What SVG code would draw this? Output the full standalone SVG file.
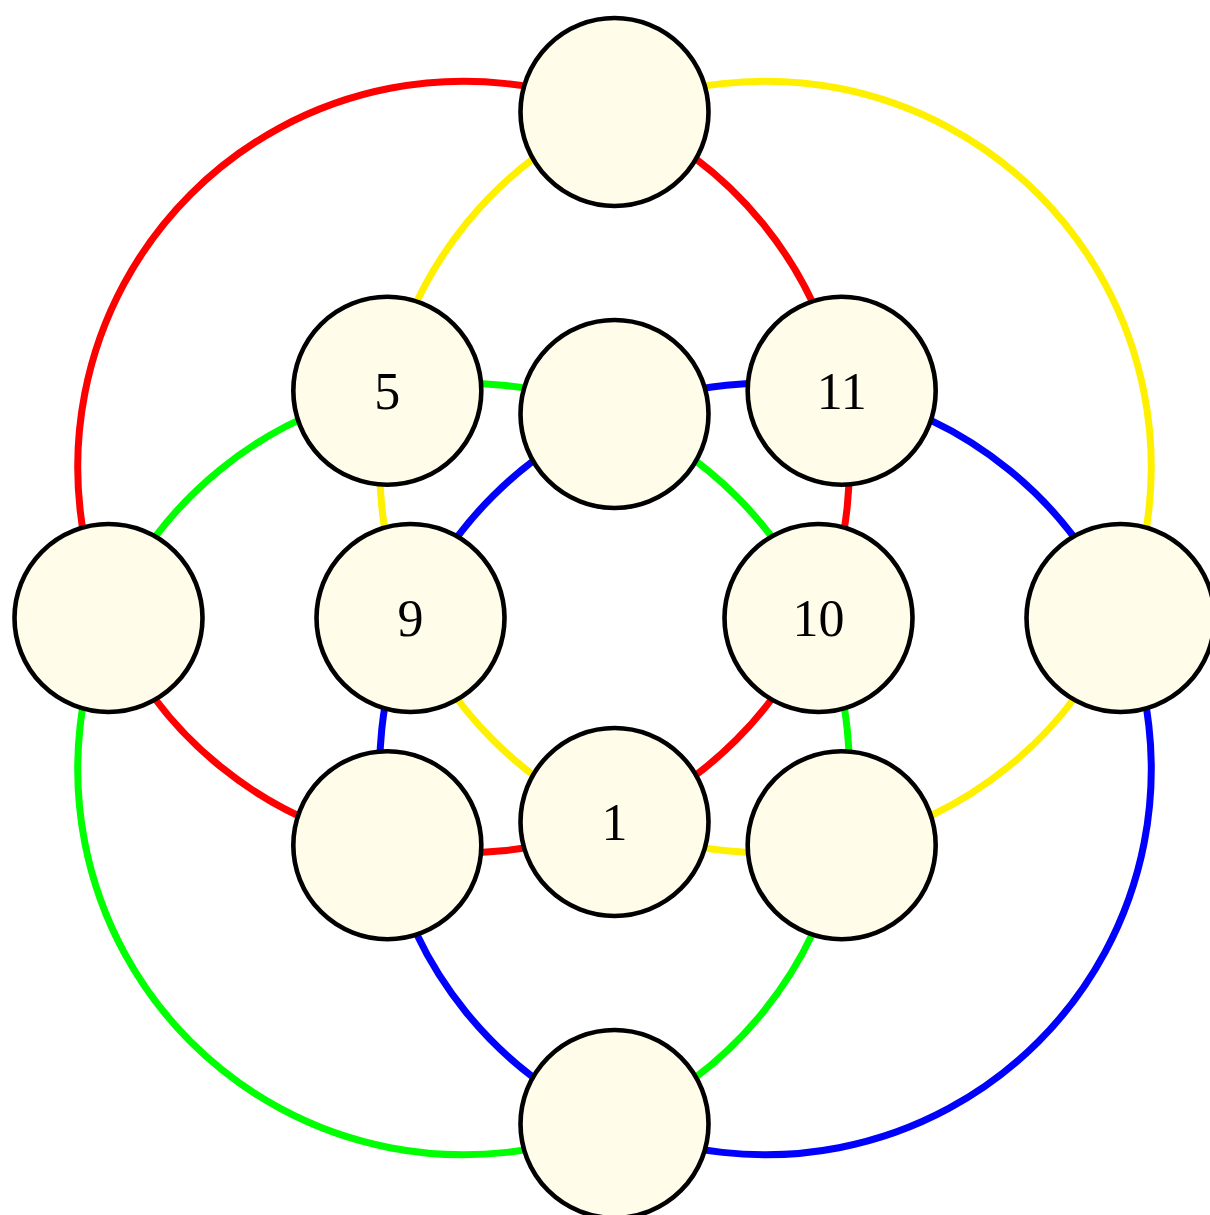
<svg xmlns="http://www.w3.org/2000/svg" width="1210" height="1215" viewBox="0 0 1210 1215">
<style>
.e{fill:none;stroke-width:7}
.r{stroke:#ff0000}.y{stroke:#fff000}.g{stroke:#00ff00}.b{stroke:#0000ff}
.n circle{fill:#fffce9;stroke:#000;stroke-width:4.6}
.n text{font-family:"Liberation Serif","Times New Roman",serif;font-size:52px;text-anchor:middle;fill:#000}
</style>
<rect width="1210" height="1215" fill="#fff"/>
<g id="connectors">
<path class="e r" d="M614.5,112 A385.78,385.78 0 0 1 841.68,390.82"/>
<path class="e r" d="M841.68,390.82 A385.78,385.78 0 0 1 818.5,618"/>
<path class="e r" d="M818.5,618 A385.78,385.78 0 0 1 614.5,822"/>
<path class="e r" d="M614.5,822 A385.78,385.78 0 0 1 387.32,845.18"/>
<path class="e r" d="M387.32,845.18 A385.78,385.78 0 0 1 108.5,618"/>
<path class="e r" d="M108.5,618 A385.78,385.78 0 0 1 614.5,112"/>
<path class="e y" d="M387.32,390.82 A385.78,385.78 0 0 1 614.5,112"/>
<path class="e y" d="M614.5,112 A385.78,385.78 0 0 1 1120.5,618"/>
<path class="e y" d="M1120.5,618 A385.78,385.78 0 0 1 841.68,845.18"/>
<path class="e y" d="M841.68,845.18 A385.78,385.78 0 0 1 614.5,822"/>
<path class="e y" d="M614.5,822 A385.78,385.78 0 0 1 410.5,618"/>
<path class="e y" d="M410.5,618 A385.78,385.78 0 0 1 387.32,390.82"/>
<path class="e g" d="M108.5,618 A385.78,385.78 0 0 1 387.32,390.82"/>
<path class="e g" d="M387.32,390.82 A385.78,385.78 0 0 1 614.5,414"/>
<path class="e g" d="M614.5,414 A385.78,385.78 0 0 1 818.5,618"/>
<path class="e g" d="M818.5,618 A385.78,385.78 0 0 1 841.68,845.18"/>
<path class="e g" d="M841.68,845.18 A385.78,385.78 0 0 1 614.5,1124"/>
<path class="e g" d="M614.5,1124 A385.78,385.78 0 0 1 108.5,618"/>
<path class="e b" d="M841.68,390.82 A385.78,385.78 0 0 1 1120.5,618"/>
<path class="e b" d="M1120.5,618 A385.78,385.78 0 0 1 614.5,1124"/>
<path class="e b" d="M614.5,1124 A385.78,385.78 0 0 1 387.32,845.18"/>
<path class="e b" d="M387.32,845.18 A385.78,385.78 0 0 1 410.5,618"/>
<path class="e b" d="M410.5,618 A385.78,385.78 0 0 1 614.5,414"/>
<path class="e b" d="M614.5,414 A385.78,385.78 0 0 1 841.68,390.82"/>
</g>
<g id="node-top" class="n"><circle cx="614.5" cy="112" r="94"/></g>
<g id="node-left" class="n"><circle cx="108.5" cy="618" r="94"/></g>
<g id="node-right" class="n"><circle cx="1120.5" cy="618" r="94"/></g>
<g id="node-bottom" class="n"><circle cx="614.5" cy="1124" r="94"/></g>
<g id="node-5" class="n"><circle cx="387.32" cy="390.82" r="94"/><text x="387.32" y="409">5</text></g>
<g id="node-11" class="n"><circle cx="841.68" cy="390.82" r="94"/><text x="841.68" y="409">11</text></g>
<g id="node-center-top" class="n"><circle cx="614.5" cy="414" r="94"/></g>
<g id="node-9" class="n"><circle cx="410.5" cy="618" r="94"/><text x="410.5" y="636">9</text></g>
<g id="node-10" class="n"><circle cx="818.5" cy="618" r="94"/><text x="818.5" y="636">10</text></g>
<g id="node-bottom-left" class="n"><circle cx="387.32" cy="845.18" r="94"/></g>
<g id="node-1" class="n"><circle cx="614.5" cy="822" r="94"/><text x="614.5" y="840">1</text></g>
<g id="node-bottom-right" class="n"><circle cx="841.68" cy="845.18" r="94"/></g>
</svg>
